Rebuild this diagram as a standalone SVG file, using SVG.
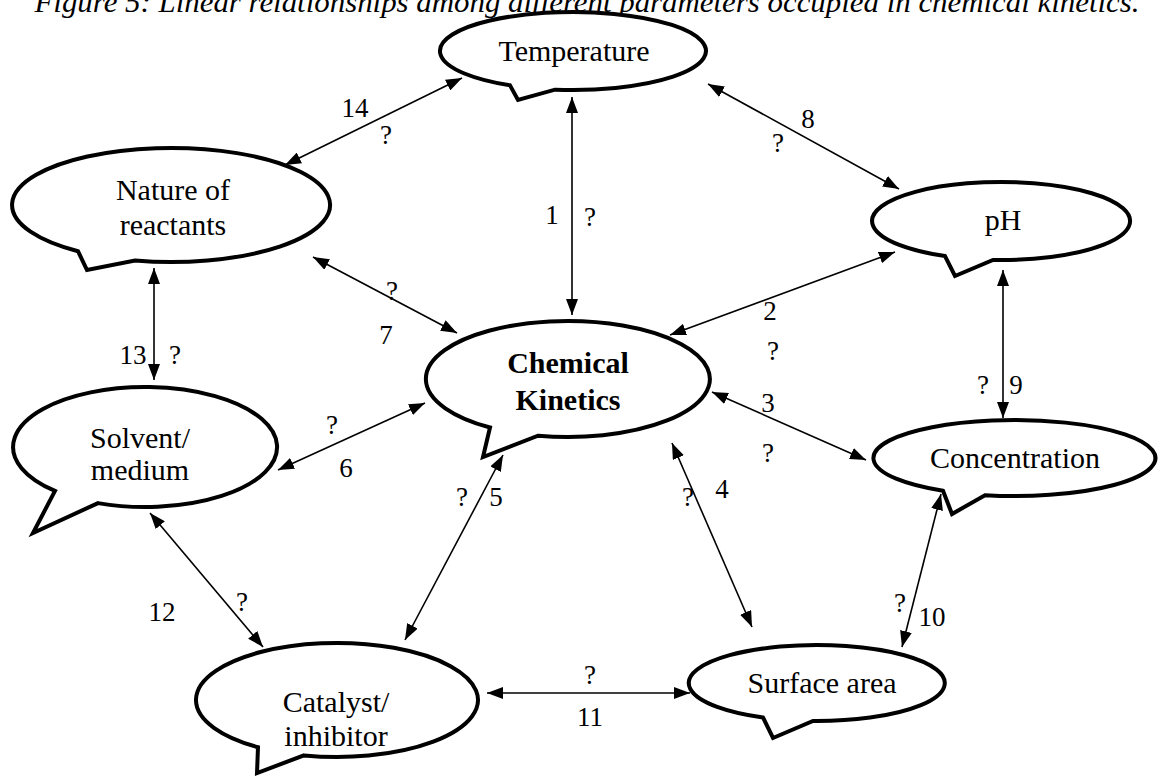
<svg xmlns="http://www.w3.org/2000/svg" width="1162" height="776" viewBox="0 0 1162 776">
<style>
.b{fill:#fff;stroke:#000;stroke-width:4;stroke-linejoin:miter}
.t{font-family:"Liberation Serif","Times New Roman",serif;font-size:30px;fill:#000;text-anchor:middle}
.tb{font-weight:bold}
.l{font-family:"Liberation Serif","Times New Roman",serif;font-size:27px;fill:#000;text-anchor:middle}
.c{stroke:#000;stroke-width:1.6;fill:none;marker-start:url(#ah);marker-end:url(#ah)}
</style>
<defs>
<marker id="ah" viewBox="0 0 16 12" refX="16" refY="6" markerWidth="16" markerHeight="12" markerUnits="userSpaceOnUse" orient="auto-start-reverse"><path d="M0,0L16,6L0,12z" fill="#000"/></marker>
</defs>
<rect width="1162" height="776" fill="#fff"/>
<text x="587" y="12" font-family="Liberation Serif, Times New Roman, serif" font-size="30" font-style="italic" text-anchor="middle" textLength="1105" lengthAdjust="spacingAndGlyphs">Figure 5: Linear relationships among different parameters occupied in chemical kinetics.</text>

<g id="connectors">
<line class="c" x1="572" y1="97" x2="572" y2="315"/>
<line class="c" x1="285" y1="165" x2="462" y2="78"/>
<line class="c" x1="708" y1="84" x2="899" y2="189"/>
<line class="c" x1="895" y1="252" x2="670" y2="335"/>
<line class="c" x1="313" y1="257" x2="457" y2="333"/>
<line class="c" x1="154" y1="268" x2="154" y2="380"/>
<line class="c" x1="1003" y1="270" x2="1003" y2="418"/>
<line class="c" x1="712" y1="392" x2="866" y2="460"/>
<line class="c" x1="425" y1="403" x2="278" y2="470"/>
<line class="c" x1="503" y1="455" x2="405" y2="640"/>
<line class="c" x1="672" y1="443" x2="752" y2="627"/>
<line class="c" x1="941" y1="494" x2="902" y2="647"/>
<line class="c" x1="150" y1="513" x2="263" y2="647"/>
<line class="c" x1="487" y1="693" x2="690" y2="693"/>
</g>

<g id="labels">
<text class="l" x="355" y="117">14</text><text class="l" x="386" y="144">?</text>
<text class="l" x="808" y="128">8</text><text class="l" x="778" y="152">?</text>
<text class="l" x="552" y="224">1</text><text class="l" x="590" y="226">?</text>
<text class="l" x="392" y="300">?</text><text class="l" x="386" y="344">7</text>
<text class="l" x="770" y="320">2</text><text class="l" x="773" y="360">?</text>
<text class="l" x="133" y="364">13</text><text class="l" x="175" y="364">?</text>
<text class="l" x="983" y="394">?</text><text class="l" x="1016" y="394">9</text>
<text class="l" x="768" y="412">3</text><text class="l" x="768" y="462">?</text>
<text class="l" x="332" y="434">?</text><text class="l" x="346" y="477">6</text>
<text class="l" x="462" y="506">?</text><text class="l" x="496" y="506">5</text>
<text class="l" x="688" y="506">?</text><text class="l" x="722" y="498">4</text>
<text class="l" x="162" y="621">12</text><text class="l" x="242" y="611">?</text>
<text class="l" x="900" y="612">?</text><text class="l" x="932" y="626">10</text>
<text class="l" x="590" y="684">?</text><text class="l" x="590" y="726">11</text>
</g>

<g id="temperature">
<path class="b" d="M510,85.35 L518,100 L555,89.64 A133,39 0 1 0 510,85.35 Z"/>
<text class="t" x="574" y="61">Temperature</text>
</g>
<g id="nature">
<path class="b" d="M78,251.2 L87,270 L135,260.5 A159,57 0 1 0 78,251.2 Z"/>
<text class="t" x="173" y="200">Nature of</text>
<text class="t" x="173" y="235">reactants</text>
</g>
<g id="ph">
<path class="b" d="M945,256.1 L955,276 L993,259.9 A129,39 0 1 0 945,256.1 Z"/>
<text class="t" x="1003" y="230">pH</text>
</g>
<g id="kinetics">
<path class="b" d="M490,427.5 L483,457 L538,435.7 A142,58 0 1 0 490,427.5 Z"/>
<text class="t tb" x="568" y="373">Chemical</text>
<text class="t tb" x="568" y="410">Kinetics</text>
</g>
<g id="solvent">
<path class="b" d="M55,490.9 L33,533 L98,503.1 A132,60 0 1 0 55,490.9 Z"/>
<text class="t" x="140" y="448">Solvent/</text>
<text class="t" x="140" y="480">medium</text>
</g>
<g id="concentration">
<path class="b" d="M943,490.8 L952,514 L985,495.2 A141,38 0 1 0 943,490.8 Z"/>
<text class="t" x="1015" y="468">Concentration</text>
</g>
<g id="catalyst">
<path class="b" d="M258,747.2 L257,773 L304,755.4 A141,57 0 1 0 258,747.2 Z"/>
<text class="t" x="336" y="712">Catalyst/</text>
<text class="t" x="336" y="746">inhibitor</text>
</g>
<g id="surface">
<path class="b" d="M763,717.5 L773,738 L813,721 A128,38 0 1 0 763,717.5 Z"/>
<text class="t" x="822" y="693">Surface area</text>
</g>
</svg>
